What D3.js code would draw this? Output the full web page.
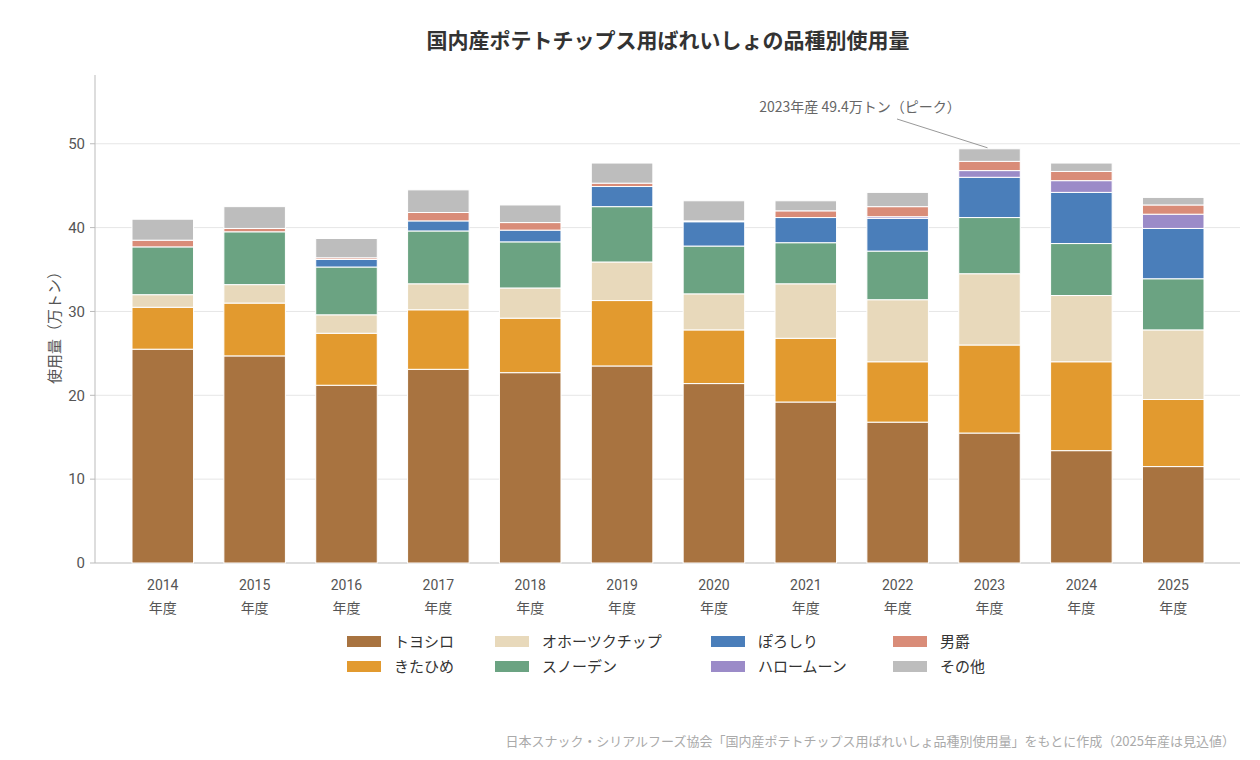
<!DOCTYPE html>
<html><head><meta charset="utf-8">
<script src="https://cdn.jsdelivr.net/npm/d3@7"></script>
<style>body{margin:0;background:#fff;font-family:"Noto Sans CJK JP","Noto Sans",sans-serif;}</style>
</head><body><svg id="c" width="1260" height="760"></svg>
<script>
const years = ["2014","2015","2016","2017","2018","2019","2020","2021","2022","2023","2024","2025"];
const seriesNames = ["トヨシロ","きたひめ","オホーツクチップ","スノーデン","ぽろしり","ハロームーン","男爵","その他"];
const colors = ["#a87340","#e29a2f","#e8d9bb","#6ba382","#4a7eba","#9b8bc8","#d98c78","#bdbdbd"];
const toyoshiro = [25.5,24.7,21.2,23.1,22.7,23.5,21.4,19.2,16.8,15.5,13.4,11.5];
const kitahime  = [5.0,6.3,6.2,7.1,6.5,7.8,6.4,7.6,7.2,10.5,10.6,8.0];
const okhotsk   = [1.5,2.2,2.2,3.1,3.6,4.6,4.3,6.5,7.4,8.5,7.9,8.3];
const snowden   = [5.7,6.3,5.7,6.3,5.5,6.6,5.7,4.9,5.8,6.7,6.2,6.1];
const poroshiri = [0,0,0.9,1.2,1.4,2.4,2.9,3.0,3.9,4.8,6.1,6.0];
const hallomoon = [0,0,0,0,0,0,0,0,0.2,0.8,1.4,1.7];
const danshaku  = [0.8,0.4,0.2,1.0,0.9,0.4,0.1,0.8,1.2,1.1,1.1,1.1];
const other     = [2.5,2.6,2.3,2.7,2.1,2.4,2.4,1.2,1.7,1.5,1.0,0.9];
const yTicks = [0,10,20,30,40,50];

const arrs=[toyoshiro,kitahime,okhotsk,snowden,poroshiri,hallomoon,danshaku,other];
const data = years.map((y,i)=>{const o={year:y}; seriesNames.forEach((s,k)=>o[s]=arrs[k][i]); return o;});
const stack = d3.stack().keys(seriesNames)(data);
const svg=d3.select("#c");
const L=95,R=1240,T=75,B=563;
const x=d3.scaleBand().domain(years).range([132,1204]).paddingInner(0.33).paddingOuter(0);
const y=d3.scaleLinear().domain([0,58.2]).range([B,T]);

svg.append("g").selectAll("line").data(yTicks.filter(d=>d>0)).join("line")
 .attr("x1",L).attr("x2",R).attr("y1",d=>y(d)).attr("y2",d=>y(d)).attr("stroke","#e6e6e6");
svg.append("line").attr("x1",L).attr("x2",L).attr("y1",T).attr("y2",B).attr("stroke","#bbb");
svg.append("line").attr("x1",L).attr("x2",R).attr("y1",B).attr("y2",B).attr("stroke","#bbb");
svg.append("g").selectAll("text").data(yTicks).join("text")
 .attr("x",L-10).attr("y",d=>y(d)).attr("dy","0.35em").attr("text-anchor","end")
 .attr("font-size",15).attr("fill","#555").attr("font-family","Roboto, sans-serif").text(d=>d);
svg.append("g").selectAll("line").data(yTicks).join("line").attr("x1",L-5).attr("x2",L).attr("y1",d=>y(d)).attr("y2",d=>y(d)).attr("stroke","#bbb");

svg.append("g").selectAll("g").data(stack).join("g").attr("fill",(d,i)=>colors[i])
 .selectAll("rect").data(d=>d).join("rect")
 .attr("x",d=>x(d.data.year)).attr("width",x.bandwidth())
 .attr("y",d=>y(d[1])).attr("height",d=>Math.max(0,y(d[0])-y(d[1])))
 .attr("stroke","#fff").attr("stroke-width",d=>(d[1]-d[0])>0?1:0);

const xl=svg.append("g").selectAll("text").data(years).join("text")
 .attr("x",d=>x(d)+x.bandwidth()/2).attr("y",B+27).attr("text-anchor","middle").attr("font-size",14).attr("fill","#555");
xl.append("tspan").attr("x",d=>x(d)+x.bandwidth()/2).attr("font-family","Roboto, sans-serif").text(d=>d);
xl.append("tspan").attr("x",d=>x(d)+x.bandwidth()/2).attr("dy",23).text("年度");

svg.append("text").attr("transform",`translate(60,${(T+B)/2+5}) rotate(-90)`).attr("text-anchor","middle")
 .attr("font-size",15).attr("fill","#555").text("使用量（万トン）");
svg.append("text").attr("x",668).attr("y",48).attr("text-anchor","middle").attr("font-size",21).attr("font-weight","bold").attr("fill","#333")
 .text("国内産ポテトチップス用ばれいしょの品種別使用量");

const i23=years.indexOf("2023");
const tot23=arrs.reduce((s,a)=>s+a[i23],0);
svg.append("line").attr("x1",897).attr("y1",119).attr("x2",x("2023")+x.bandwidth()/2-2).attr("y2",y(tot23)-1).attr("stroke","#999");
svg.append("text").attr("x",860).attr("y",112).attr("text-anchor","middle").attr("font-size",14).attr("fill","#666")
 .text(`2023年産 ${tot23.toFixed(1)}万トン（ピーク）`);

const lx=[347,495,711,893];
const lg=svg.append("g").selectAll("g").data(seriesNames).join("g")
 .attr("transform",(d,i)=>{const col=i>>1,row=i%2;return `translate(${lx[col]},${636+row*25})`;});
lg.append("rect").attr("width",34).attr("height",11).attr("fill",(d,i)=>colors[i]);
lg.append("text").attr("x",47).attr("y",6).attr("dy","0.35em").attr("font-size",15).attr("fill","#333").text(d=>d);

svg.append("text").attr("x",1235).attr("y",746).attr("text-anchor","end").attr("font-size",13).attr("fill","#aaa")
 .text("日本スナック・シリアルフーズ協会「国内産ポテトチップス用ばれいしょ品種別使用量」をもとに作成（2025年産は見込値）");
</script></body></html>
